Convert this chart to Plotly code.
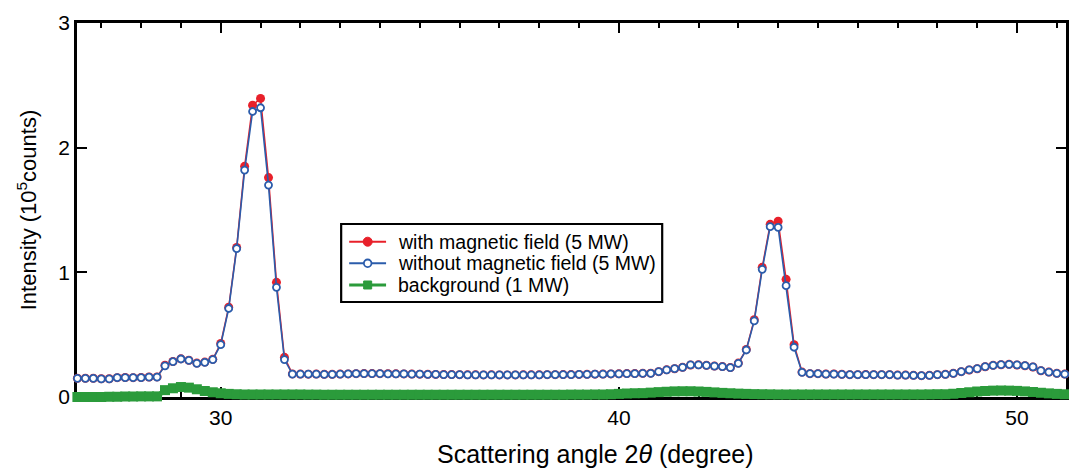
import plotly.graph_objects as go

# Scattering angle 2theta (degree)
angle = [
    26.4, 26.6, 26.8, 27.0, 27.2, 27.4, 27.6, 27.8, 28.0, 28.2, 28.4,
    28.6, 28.8, 29.0, 29.2, 29.4, 29.6, 29.8, 30.0, 30.2, 30.4, 30.6, 30.8, 31.0, 31.2, 31.4, 31.6,
    31.8, 32.0, 32.2, 32.4, 32.6, 32.8, 33.0, 33.2, 33.4, 33.6,
    33.8, 34.0, 34.2, 34.4, 34.6, 34.8, 35.0, 35.2, 35.4, 35.6,
    35.8, 36.0, 36.2, 36.4, 36.6, 36.8, 37.0, 37.2, 37.4, 37.6,
    37.8, 38.0, 38.2, 38.4, 38.6, 38.8, 39.0, 39.2, 39.4, 39.6,
    39.8, 40.0, 40.2, 40.4,
    40.6, 40.8, 41.0, 41.2, 41.4, 41.6, 41.8, 42.0, 42.2, 42.4,
    42.6, 42.8, 43.0, 43.2, 43.4, 43.6, 43.8, 44.0, 44.2, 44.4,
    44.6, 44.8, 45.0, 45.2, 45.4, 45.6, 45.8, 46.0, 46.2, 46.4, 46.6, 46.8,
    47.0, 47.2, 47.4, 47.6, 47.8, 48.0, 48.2, 48.4, 48.6, 48.8, 49.0,
    49.2, 49.4, 49.6, 49.8, 50.0, 50.2, 50.4, 50.6, 50.8, 51.0, 51.2,
]

# with magnetic field (5 MW), 10^5 counts
with_field = [
    0.150, 0.150, 0.150, 0.146, 0.146, 0.155, 0.156, 0.155, 0.156, 0.160, 0.161,
    0.255, 0.285, 0.306, 0.295, 0.272, 0.280, 0.302, 0.430, 0.720, 1.200, 1.850, 2.340, 2.395, 1.760, 0.920, 0.318,
    0.185, 0.184, 0.183, 0.184, 0.182, 0.182, 0.184, 0.185, 0.187, 0.188,
    0.188, 0.187, 0.187, 0.186, 0.185, 0.184, 0.183, 0.182, 0.181, 0.180,
    0.180, 0.179, 0.178, 0.178, 0.177, 0.178, 0.177, 0.177, 0.177, 0.178,
    0.178, 0.178, 0.179, 0.179, 0.180, 0.180, 0.181, 0.182, 0.183, 0.184,
    0.185, 0.186, 0.188, 0.188,
    0.190, 0.191, 0.203, 0.218, 0.227, 0.238, 0.257, 0.258, 0.254, 0.248,
    0.244, 0.236, 0.272, 0.382, 0.620, 1.040, 1.385, 1.410, 0.944, 0.420,
    0.200, 0.187, 0.187, 0.184, 0.185, 0.182, 0.179, 0.179, 0.180, 0.179, 0.179, 0.179,
    0.176, 0.176, 0.174, 0.171, 0.174, 0.179, 0.182, 0.190, 0.203, 0.217, 0.227,
    0.243, 0.254, 0.259, 0.262, 0.257, 0.251, 0.241, 0.211, 0.200, 0.190, 0.184,
]

# without magnetic field (5 MW), 10^5 counts
without_field = [
    0.150, 0.150, 0.150, 0.145, 0.145, 0.155, 0.155, 0.155, 0.155, 0.160, 0.160,
    0.250, 0.283, 0.305, 0.294, 0.270, 0.278, 0.300, 0.420, 0.710, 1.190, 1.820, 2.290, 2.320, 1.700, 0.880, 0.300,
    0.184, 0.184, 0.183, 0.183, 0.182, 0.182, 0.183, 0.185, 0.187, 0.188,
    0.188, 0.187, 0.186, 0.186, 0.185, 0.184, 0.183, 0.182, 0.181, 0.180,
    0.180, 0.179, 0.178, 0.178, 0.177, 0.177, 0.177, 0.177, 0.177, 0.178,
    0.178, 0.178, 0.179, 0.179, 0.180, 0.180, 0.181, 0.182, 0.183, 0.183,
    0.185, 0.186, 0.187, 0.188,
    0.190, 0.190, 0.203, 0.217, 0.227, 0.238, 0.257, 0.257, 0.254, 0.248,
    0.243, 0.235, 0.270, 0.377, 0.610, 1.024, 1.366, 1.361, 0.893, 0.399,
    0.198, 0.187, 0.187, 0.184, 0.184, 0.182, 0.179, 0.179, 0.179, 0.179, 0.179, 0.179,
    0.176, 0.176, 0.174, 0.171, 0.174, 0.179, 0.182, 0.190, 0.203, 0.217, 0.227,
    0.243, 0.254, 0.259, 0.262, 0.257, 0.251, 0.241, 0.211, 0.200, 0.190, 0.184,
]

# background (1 MW), 10^5 counts
background = [
    0.000, 0.000, 0.000, 0.000, 0.002, 0.002, 0.004, 0.004, 0.005, 0.005, 0.005,
    0.055, 0.070, 0.080, 0.075, 0.062, 0.048, 0.038, 0.030, 0.025, 0.022, 0.020, 0.020, 0.020, 0.020, 0.020, 0.020,
    0.020, 0.020, 0.019, 0.019, 0.018, 0.018, 0.018, 0.018, 0.018, 0.018,
    0.018, 0.018, 0.018, 0.018, 0.018, 0.018, 0.018, 0.018, 0.018, 0.018,
    0.018, 0.018, 0.018, 0.018, 0.018, 0.018, 0.018, 0.018, 0.018, 0.018,
    0.018, 0.018, 0.018, 0.018, 0.018, 0.019, 0.019, 0.019, 0.020, 0.020,
    0.022, 0.025, 0.028, 0.030,
    0.031, 0.035, 0.039, 0.042, 0.045, 0.046, 0.046, 0.044, 0.041, 0.037,
    0.033, 0.030, 0.027, 0.025, 0.023, 0.022, 0.021, 0.020, 0.020, 0.020,
    0.020, 0.020, 0.020, 0.020, 0.020, 0.020, 0.020, 0.020, 0.020, 0.020, 0.020, 0.020,
    0.020, 0.020, 0.020, 0.020, 0.021, 0.022, 0.022, 0.026, 0.032, 0.038, 0.044,
    0.048, 0.051, 0.052, 0.051, 0.049, 0.045, 0.040, 0.034, 0.029, 0.025, 0.022,
]

series_names = [
    "with magnetic field (5 MW)",
    "without magnetic field (5 MW)",
    "background (1 MW)",
]
x_title = "Scattering angle 2<i>θ</i> (degree)"
y_title = "Intensity (10<sup>5</sup>counts)"

RED = "#e8202a"
BLUE = "#2b5cab"
GREEN = "#2b9b3b"
FONT = "Liberation Sans, Arial, sans-serif"

fig = go.Figure()

fig.add_trace(go.Scatter(
    x=angle, y=background, mode="lines+markers", name=series_names[2],
    line=dict(color=GREEN, width=5),
    marker=dict(symbol="square", size=10, color=GREEN),
    showlegend=False, cliponaxis=False,
))
fig.add_trace(go.Scatter(
    x=angle, y=with_field, mode="lines+markers", name=series_names[0],
    line=dict(color=RED, width=1.5),
    marker=dict(symbol="circle", size=9, color=RED),
    showlegend=False, cliponaxis=False,
))
fig.add_trace(go.Scatter(
    x=angle, y=without_field, mode="lines+markers", name=series_names[1],
    line=dict(color=BLUE, width=1.6),
    marker=dict(symbol="circle", size=7, color="white", line=dict(color=BLUE, width=1.8)),
    showlegend=False, cliponaxis=False,
))

axis_common = dict(
    showline=True, linewidth=2.5, linecolor="black", mirror="ticks",
    ticks="inside", ticklen=10, tickwidth=2, tickcolor="black",
    showgrid=False, zeroline=False, layer="below traces",
    tickfont=dict(size=21, color="black", family=FONT),
)

# ---- hand-built legend box (paper coordinates) ----
box_x0, box_x1, box_y0, box_y1 = 0.2671, 0.5917, 0.2540, 0.4626
row_y = [0.4152, 0.3575, 0.2995]
smp_x0, smp_x1, smp_xm, txt_x = 0.2752, 0.3125, 0.2939, 0.3226
colors = [RED, BLUE, GREEN]

shapes = [dict(type="rect", xref="paper", yref="paper",
               x0=box_x0, x1=box_x1, y0=box_y0, y1=box_y1,
               line=dict(color="black", width=2.2), fillcolor="white", layer="above")]
annotations = []
for k, (name, col, yy) in enumerate(zip(series_names, colors, row_y)):
    shapes.append(dict(type="line", xref="paper", yref="paper",
                       x0=smp_x0, x1=smp_x1, y0=yy, y1=yy,
                       line=dict(color=col, width=3 if k == 2 else 2), layer="above"))
    if k == 0:
        shapes.append(dict(type="circle", xref="paper", yref="paper",
                           xsizemode="pixel", ysizemode="pixel",
                           xanchor=smp_xm, yanchor=yy, x0=-4.5, x1=4.5, y0=-4.5, y1=4.5,
                           fillcolor=col, line=dict(color=col, width=1), layer="above"))
    elif k == 1:
        shapes.append(dict(type="circle", xref="paper", yref="paper",
                           xsizemode="pixel", ysizemode="pixel",
                           xanchor=smp_xm, yanchor=yy, x0=-3.8, x1=3.8, y0=-3.8, y1=3.8,
                           fillcolor="white", line=dict(color=col, width=1.8), layer="above"))
    else:
        shapes.append(dict(type="rect", xref="paper", yref="paper",
                           xsizemode="pixel", ysizemode="pixel",
                           xanchor=smp_xm, yanchor=yy, x0=-4, x1=4, y0=-4, y1=4,
                           fillcolor=col, line=dict(color=col, width=1), layer="above"))
    annotations.append(dict(text=name, xref="paper", yref="paper", x=txt_x, y=yy,
                            xanchor="left", yanchor="middle", showarrow=False,
                            font=dict(size=19.5, family=FONT, color="black")))

# x-axis title (placed as in the reference, slightly right of centre)
annotations.append(dict(text=x_title, xref="paper", yref="paper", x=0.524, y=-0.153,
                        xanchor="center", yanchor="middle", showarrow=False,
                        font=dict(size=25, family=FONT, color="black")))

fig.update_layout(
    width=1069, height=471,
    margin=dict(l=77, r=0, t=23, b=74),
    paper_bgcolor="white", plot_bgcolor="white",
    font=dict(family=FONT, color="black"),
    xaxis=dict(
        range=[26.39, 51.23], tickmode="linear", tick0=0, dtick=10,
        minor=dict(dtick=1, tick0=0, ticks="inside", ticklen=5, tickwidth=1.5, tickcolor="black"),
        **axis_common,
    ),
    yaxis=dict(
        range=[0, 3], tickmode="linear", tick0=0, dtick=1,
        title=dict(text=y_title, font=dict(size=22, family=FONT), standoff=16),
        **axis_common,
    ),
    showlegend=False,
    shapes=shapes,
    annotations=annotations,
)

fig.write_html("out.html")
